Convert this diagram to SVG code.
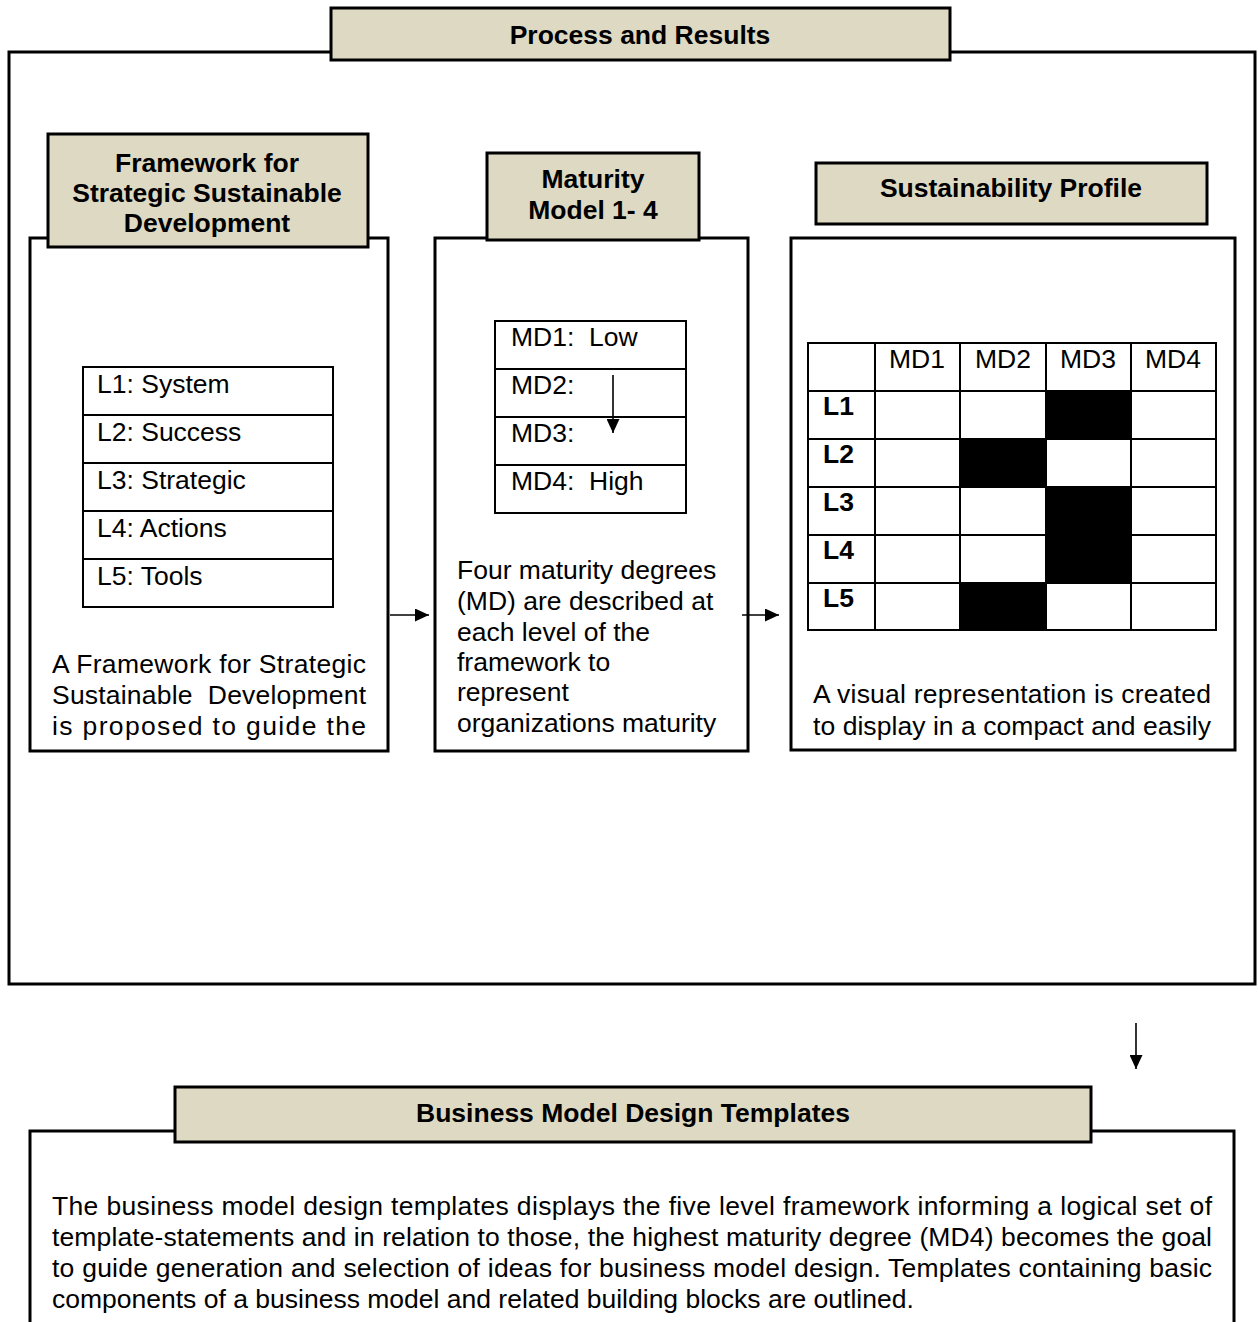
<svg xmlns="http://www.w3.org/2000/svg" width="1258" height="1322" viewBox="0 0 1258 1322">
<defs>
<style>
.box{fill:#ffffff;stroke:#000;stroke-width:3}
.head{fill:#ddd9c3;stroke:#000;stroke-width:3}
.tbl{fill:none;stroke:#000;stroke-width:2}
.t{font-family:"Liberation Sans",Arial,sans-serif;font-size:26.5px;fill:#000}
.b{font-family:"Liberation Sans",Arial,sans-serif;font-size:26.5px;font-weight:bold;fill:#000}
.c{text-anchor:middle}
.conn{stroke:#000;stroke-width:1.6;fill:none;marker-end:url(#ah)}
</style>
<marker id="ah" markerUnits="userSpaceOnUse" markerWidth="15" markerHeight="13" refX="14" refY="6.5" orient="auto">
<path d="M0,0 L14,6.5 L0,13 Z" fill="#000"/>
</marker>
</defs>
<rect width="1258" height="1322" fill="#fff"/>

<g id="process-results">
<rect class="box" x="9" y="52" width="1246" height="932"/>
<rect class="head" x="331" y="8" width="619" height="52"/>
<text class="b c" x="640" y="44">Process and Results</text>
</g>

<g id="framework">
<rect class="box" x="30" y="238" width="358" height="513"/>
<rect class="head" x="48" y="134" width="320" height="113"/>
<text class="b c" x="207" y="172">Framework for</text>
<text class="b c" x="207" y="202">Strategic Sustainable</text>
<text class="b c" x="207" y="232">Development</text>
<g id="levels">
<rect class="tbl" x="83" y="367" width="250" height="240"/>
<line class="tbl" x1="83" y1="415" x2="333" y2="415"/>
<line class="tbl" x1="83" y1="463" x2="333" y2="463"/>
<line class="tbl" x1="83" y1="511" x2="333" y2="511"/>
<line class="tbl" x1="83" y1="559" x2="333" y2="559"/>
<text class="t" x="97" y="393">L1: System</text>
<text class="t" x="97" y="441">L2: Success</text>
<text class="t" x="97" y="489">L3: Strategic</text>
<text class="t" x="97" y="537">L4: Actions</text>
<text class="t" x="97" y="585">L5: Tools</text>
</g>
<text class="t" x="52" y="673" textLength="314" lengthAdjust="spacing">A Framework for Strategic</text>
<text class="t" x="52" y="704" textLength="314" lengthAdjust="spacing">Sustainable&#160; Development</text>
<text class="t" x="52" y="735" textLength="314" lengthAdjust="spacing">is proposed to guide the</text>
</g>

<g id="maturity">
<rect class="box" x="435" y="238" width="313" height="513"/>
<rect class="head" x="487" y="153" width="212" height="87"/>
<text class="b c" x="593" y="188">Maturity</text>
<text class="b c" x="593" y="219">Model 1- 4</text>
<g id="degrees">
<rect class="tbl" x="495" y="321" width="191" height="192"/>
<line class="tbl" x1="495" y1="369" x2="686" y2="369"/>
<line class="tbl" x1="495" y1="417" x2="686" y2="417"/>
<line class="tbl" x1="495" y1="465" x2="686" y2="465"/>
<text class="t" x="511" y="346">MD1:&#160; Low</text>
<text class="t" x="511" y="394">MD2:</text>
<text class="t" x="511" y="442">MD3:</text>
<text class="t" x="511" y="490">MD4:&#160; High</text>
</g>
<text class="t" x="457" y="579">Four maturity degrees</text>
<text class="t" x="457" y="610">(MD) are described at</text>
<text class="t" x="457" y="641">each level of the</text>
<text class="t" x="457" y="671">framework to</text>
<text class="t" x="457" y="701">represent</text>
<text class="t" x="457" y="732">organizations maturity</text>
</g>

<g id="profile">
<rect class="box" x="791" y="238" width="444" height="512"/>
<rect class="head" x="816" y="163" width="391" height="61"/>
<text class="b c" x="1011" y="197">Sustainability Profile</text>
<g id="grid">
<rect x="1046" y="391" width="85" height="48" fill="#000"/>
<rect x="960" y="439" width="86" height="48" fill="#000"/>
<rect x="1046" y="487" width="85" height="48" fill="#000"/>
<rect x="1046" y="535" width="85" height="48" fill="#000"/>
<rect x="960" y="583" width="86" height="47" fill="#000"/>
<rect class="tbl" x="808" y="343" width="408" height="287"/>
<line class="tbl" x1="875" y1="343" x2="875" y2="630"/>
<line class="tbl" x1="960" y1="343" x2="960" y2="630"/>
<line class="tbl" x1="1046" y1="343" x2="1046" y2="630"/>
<line class="tbl" x1="1131" y1="343" x2="1131" y2="630"/>
<line class="tbl" x1="808" y1="391" x2="1216" y2="391"/>
<line class="tbl" x1="808" y1="439" x2="1216" y2="439"/>
<line class="tbl" x1="808" y1="487" x2="1216" y2="487"/>
<line class="tbl" x1="808" y1="535" x2="1216" y2="535"/>
<line class="tbl" x1="808" y1="583" x2="1216" y2="583"/>
<text class="t c" x="917" y="368">MD1</text>
<text class="t c" x="1003" y="368">MD2</text>
<text class="t c" x="1088" y="368">MD3</text>
<text class="t c" x="1173" y="368">MD4</text>
<text class="b" x="823" y="415">L1</text>
<text class="b" x="823" y="463">L2</text>
<text class="b" x="823" y="511">L3</text>
<text class="b" x="823" y="559">L4</text>
<text class="b" x="823" y="607">L5</text>
</g>
<text class="t" x="813" y="703" textLength="398" lengthAdjust="spacing">A visual representation is created</text>
<text class="t" x="813" y="735" textLength="398" lengthAdjust="spacing">to display in a compact and easily</text>
</g>

<g id="templates">
<path d="M30,1340 V1131 H1234 V1340" fill="#fff" stroke="#000" stroke-width="3"/>
<rect class="head" x="175" y="1087" width="916" height="55"/>
<text class="b c" x="633" y="1122">Business Model Design Templates</text>
<text class="t" x="52" y="1215" textLength="1160" lengthAdjust="spacing">The business model design templates displays the five level framework informing a logical set of</text>
<text class="t" x="52" y="1246" textLength="1160" lengthAdjust="spacing">template-statements and in relation to those, the highest maturity degree (MD4) becomes the goal</text>
<text class="t" x="52" y="1277" textLength="1160" lengthAdjust="spacing">to guide generation and selection of ideas for business model design. Templates containing basic</text>
<text class="t" x="52" y="1308">components of a business model and related building blocks are outlined.</text>
</g>

<g id="connectors">
<line class="conn" x1="390" y1="615" x2="429" y2="615"/>
<line class="conn" x1="742" y1="615" x2="779" y2="615"/>
<line class="conn" x1="613" y1="375" x2="613" y2="433"/>
<line class="conn" x1="1136" y1="1023" x2="1136" y2="1069"/>
</g>
</svg>
